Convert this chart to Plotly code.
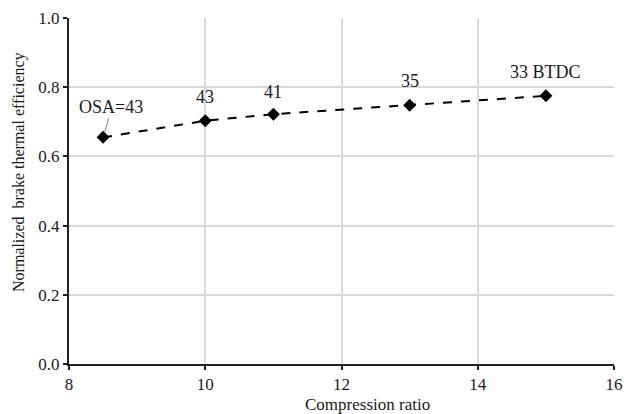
import plotly.graph_objects as go

compression_ratio = [8.5, 10, 11, 13, 15]
efficiency = [0.655, 0.703, 0.722, 0.748, 0.775]
osa_labels = ["OSA=43", "43", "41", "35", "33 BTDC"]
label_x = [8.62, 10, 11, 13, 15]
label_y = [0.743, 0.772, 0.787, 0.818, 0.845]
x_ticks = [8, 10, 12, 14, 16]
y_ticks = [0, 0.2, 0.4, 0.6, 0.8, 1.0]

FONT = "'Liberation Serif', 'Times New Roman', 'DejaVu Serif', serif"
TXT = "#1a1a1a"

fig = go.Figure()
fig.add_trace(go.Scatter(
    x=compression_ratio, y=efficiency, mode="lines+markers",
    line=dict(color="black", dash="dash", width=2),
    marker=dict(symbol="diamond", size=10, color="black"),
    showlegend=False, hoverinfo="skip",
))

for lx, ly, t in zip(label_x, label_y, osa_labels):
    fig.add_annotation(x=lx, y=ly, text=t, showarrow=False,
                       font=dict(family=FONT, size=18, color=TXT))

# pointer line for OSA label
fig.add_annotation(x=compression_ratio[0], y=efficiency[0], ax=8.59, ay=0.715,
                   axref="x", ayref="y", xref="x", yref="y",
                   showarrow=True, arrowhead=0, arrowwidth=1, arrowcolor="#888",
                   standoff=5, text="")

# axis titles
fig.add_annotation(xref="paper", yref="paper", x=(367 - 69) / 545, y=-(404 - 364) / 346,
                   xanchor="center", yanchor="middle",
                   text="Compression ratio", showarrow=False,
                   font=dict(family=FONT, size=17, color=TXT))
fig.add_annotation(xref="paper", yref="paper", x=-(69 - 19) / 545, y=(364 - 172) / 346,
                   xanchor="center", yanchor="middle",
                   text="Normalized&nbsp;&nbsp;brake thermal efficiency", showarrow=False,
                   textangle=-90, font=dict(family=FONT, size=16, color=TXT))

fig.update_layout(
    width=624, height=414,
    margin=dict(l=69, r=10, t=18, b=50),
    plot_bgcolor="white", paper_bgcolor="white",
    font=dict(family=FONT, size=17, color=TXT),
    xaxis=dict(range=[8, 16], tickvals=x_ticks, showgrid=True,
               gridcolor="#d9d9d9", gridwidth=1.5, showline=True, linecolor="#222",
               linewidth=2, ticks="outside", ticklen=4, tickwidth=2, tickcolor="#222",
               zeroline=False, ticklabeloverflow="allow", automargin=False),
    yaxis=dict(range=[0, 1.0], tickvals=y_ticks, tickformat=".1f",
               showgrid=True, gridcolor="#d9d9d9", gridwidth=1.5, showline=True,
               linecolor="#222", linewidth=2, ticks="outside", ticklen=4, tickwidth=2,
               tickcolor="#222", zeroline=False, automargin=False),
)

fig.write_html("out.html", config={"displayModeBar": False},
               post_script="document.body.style.margin='0';")
